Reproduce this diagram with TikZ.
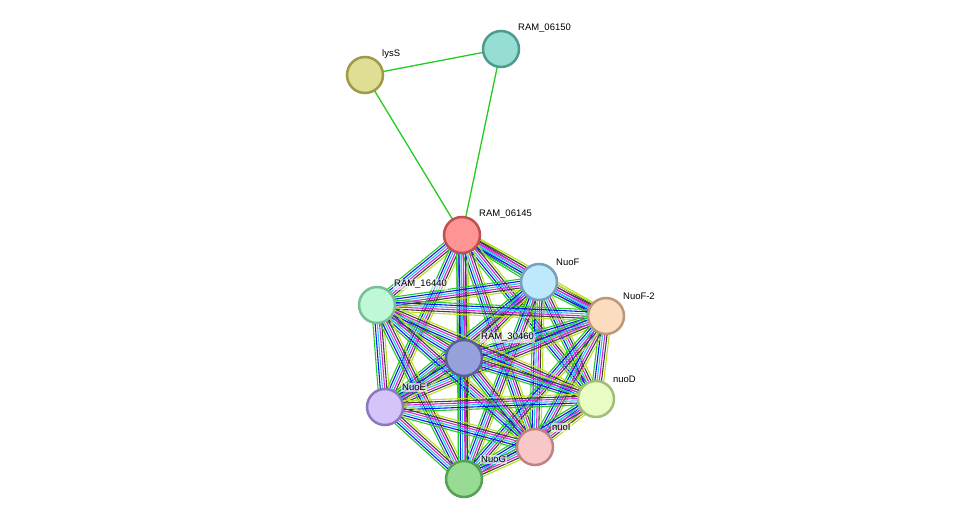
\documentclass[tikz,border=0pt]{standalone}
\usepackage{fontspec}
\setmainfont{Liberation Sans}
\usetikzlibrary{calc}
\definecolor{eg}{HTML}{22CC22}
\definecolor{eb}{HTML}{1414F0}
\definecolor{ec}{HTML}{22C8E0}
\definecolor{em}{HTML}{E020E0}
\definecolor{ek}{HTML}{404040}
\definecolor{ey}{HTML}{B8E020}
\begin{document}
\begin{tikzpicture}[x=1bp,y=-1bp,
  prot/.style={circle,minimum size=36bp,inner sep=0pt,line width=2.5bp},
  lbl/.style={anchor=south west,inner sep=1bp,font=\fontsize{9.5}{10}\selectfont,fill=white,fill opacity=0.6,text opacity=1},
  edge/.style={line width=1.1bp}]
\useasboundingbox (0,0) rectangle (975,525);
\coordinate (lysS) at (365,75);
\coordinate (r6150) at (501,49);
\coordinate (r6145) at (462,235);
\coordinate (nuoF) at (539,282);
\coordinate (nuoF2) at (606,316);
\coordinate (r16440) at (377,305);
\coordinate (r30460) at (464,358);
\coordinate (nuoE) at (385,407);
\coordinate (nuoD) at (596,399);
\coordinate (nuoI) at (535,447);
\coordinate (nuoG) at (464,479);
% green single edges
\draw[eg,line width=1.3bp] (lysS) -- (r6150);
\draw[eg,line width=1.3bp] (lysS) -- (r6145);
\draw[eg,line width=1.3bp] (r6150) -- (r6145);
% bundles
\foreach \a/\b in {r6145/nuoF,r6145/nuoF2,r6145/r16440,r6145/r30460,r6145/nuoE,r6145/nuoD,r6145/nuoI,r6145/nuoG,
 nuoF/nuoF2,nuoF/r16440,nuoF/r30460,nuoF/nuoE,nuoF/nuoD,nuoF/nuoI,nuoF/nuoG,
 nuoF2/r16440,nuoF2/r30460,nuoF2/nuoE,nuoF2/nuoD,nuoF2/nuoI,nuoF2/nuoG,
 r16440/r30460,r16440/nuoE,r16440/nuoD,r16440/nuoI,r16440/nuoG,
 r30460/nuoE,r30460/nuoD,r30460/nuoI,r30460/nuoG,
 nuoE/nuoD,nuoE/nuoI,nuoE/nuoG,nuoD/nuoI,nuoD/nuoG,nuoI/nuoG}{
  \foreach \o/\c in {-5.5/eg,-3.3/eb,-1.1/ec,1.1/em,3.3/ek,5.5/ey}{
    \draw[edge,\c] ($(\a)!\o bp!90:(\b)$) -- ($(\b)!\o bp!-90:(\a)$);
  }
}
\node[prot,fill={rgb,255:red,224;green,221;blue,148},draw={rgb,255:red,158;green,154;blue,72}] (nlysS) at (lysS) {};
\node[prot,fill={rgb,255:red,150;green,222;blue,212},draw={rgb,255:red,76;green,154;blue,144}] (n6150) at (r6150) {};
\node[prot,fill={rgb,255:red,255;green,148;blue,148},draw={rgb,255:red,190;green,80;blue,80}] (n6145) at (r6145) {};
\node[prot,fill={rgb,255:red,190;green,232;blue,252},draw={rgb,255:red,120;green,160;blue,190}] (nF) at (nuoF) {};
\node[prot,fill={rgb,255:red,252;green,220;blue,190},draw={rgb,255:red,190;green,150;blue,120}] (nF2) at (nuoF2) {};
\node[prot,fill={rgb,255:red,190;green,248;blue,214},draw={rgb,255:red,120;green,190;blue,150}] (n16440) at (r16440) {};
\node[prot,fill={rgb,255:red,152;green,160;blue,220},draw={rgb,255:red,88;green,96;blue,150}] (n30460) at (r30460) {};
\node[prot,fill={rgb,255:red,212;green,196;blue,250},draw={rgb,255:red,140;green,120;blue,190}] (nE) at (nuoE) {};
\node[prot,fill={rgb,255:red,232;green,252;blue,196},draw={rgb,255:red,160;green,190;blue,120}] (nD) at (nuoD) {};
\node[prot,fill={rgb,255:red,248;green,200;blue,200},draw={rgb,255:red,190;green,130;blue,130}] (nI) at (nuoI) {};
\node[prot,fill={rgb,255:red,152;green,220;blue,148},draw={rgb,255:red,84;green,160;blue,84}] (nG) at (nuoG) {};
\foreach \n/\t in {lysS/lysS,r6150/RAM\_06150,r6145/RAM\_06145,nuoF/NuoF,nuoF2/NuoF-2,r16440/RAM\_16440,r30460/RAM\_30460,nuoE/NuoE,nuoD/nuoD,nuoI/nuoI,nuoG/NuoG}{
  \node[lbl] (l\n) at ($(\n)+(16,-15)$) {\t};
}
\end{tikzpicture}
\end{document}
